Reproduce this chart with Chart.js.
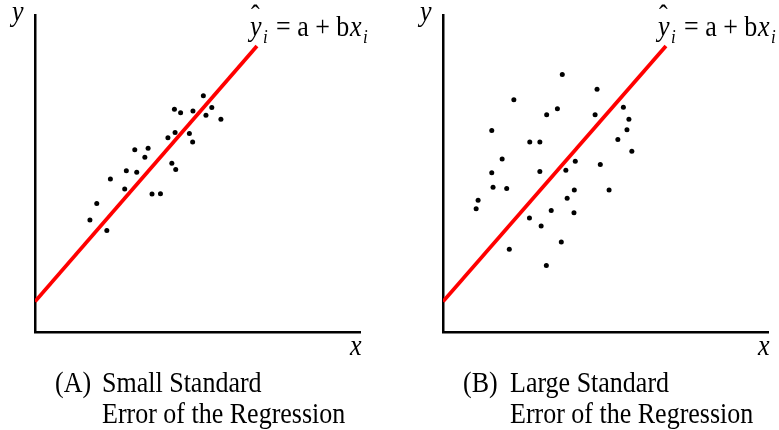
<!DOCTYPE html>
<html>
<head>
<meta charset="utf-8">
<script src="https://cdn.jsdelivr.net/npm/chart.js@4.4.0/dist/chart.umd.min.js"></script>
<style>
  html, body { margin: 0; padding: 0; background: #fff; }
  #wrap { position: relative; width: 779px; height: 430px; }
  canvas { position: absolute; top: 0; }
</style>
</head>
<body>
<div id="wrap">
  <canvas id="chartA" width="390" height="430" style="left:0px"></canvas>
  <canvas id="chartB" width="389" height="430" style="left:390px"></canvas>
</div>
<script>
// panel A - small standard error
const xA = [1.69, 1.90, 2.21, 2.32, 2.76, 2.81, 3.07, 3.13, 3.38, 3.48, 3.60, 3.86, 4.09,
            4.21, 4.33, 4.31, 4.29, 4.48, 4.75, 4.85, 4.86, 5.18, 5.26, 5.44, 5.72];
const yA = [3.53, 4.05, 3.20, 4.83, 4.51, 5.09, 5.75, 5.04, 5.51, 5.80, 4.35, 4.36, 6.13,
            5.32, 5.13, 6.29, 7.03, 6.92, 6.26, 5.99, 6.97, 7.45, 6.84, 7.08, 6.71];
const lineXA = [0, 6.83];
const lineYA = [0.96, 9.02];

// panel B - large standard error
const xB = [3.67, 4.74, 2.18, 3.52, 3.19, 4.68, 5.55, 5.72, 5.66, 1.50, 2.67, 2.98, 5.38,
            5.81, 1.82, 4.07, 1.50, 2.98, 3.78, 4.84, 1.54, 1.96, 4.04, 5.11, 1.08, 1.02,
            3.82, 3.33, 4.03, 2.66, 3.02, 3.64, 2.04, 3.18];
const yB = [8.12, 7.66, 7.33, 7.04, 6.85, 6.85, 7.09, 6.71, 6.38, 6.36, 5.99, 5.99, 6.07,
            5.70, 5.46, 5.39, 5.02, 5.06, 5.10, 5.28, 4.57, 4.53, 4.48, 4.48, 4.16, 3.89,
            4.22, 3.83, 3.76, 3.60, 3.34, 2.84, 2.61, 2.10];
const lineXB = [0, 6.86];
const lineYB = [0.96, 9.02];

const axisMin = 0;
const axisMax = 10;

const captionA = ['(A)', 'Small Standard', 'Error of the Regression'];
const captionB = ['(B)', 'Large Standard', 'Error of the Regression'];

const serif = '"Liberation Serif", "Times New Roman", serif';

function txt(ctx, s, x, y, size, italic) {
  ctx.save();
  ctx.translate(x, y);
  ctx.scale(1, 1.15);
  ctx.font = (italic ? 'italic ' : '') + size + 'px ' + serif;
  ctx.fillStyle = '#000';
  ctx.textAlign = 'left';
  ctx.textBaseline = 'alphabetic';
  ctx.fillText(s, 0, 0);
  ctx.restore();
}

// axis letters, equation and caption
const labelPlugin = {
  id: 'panelText',
  afterDraw(chart, args, opts) {
    const ctx = chart.ctx;
    const a = chart.chartArea;
    const L = a.left;
    txt(ctx, 'y', L - 23, 21, 26, true);
    txt(ctx, 'x', a.right - 10, a.bottom + 23, 26, true);
    // y-hat_i = a + b x_i
    txt(ctx, '\u02C6', L + 216, 25, 26, false);
    txt(ctx, 'y', L + 215, 36, 26, true);
    txt(ctx, 'i', L + 228, 43, 17, true);
    txt(ctx, '= a + b', L + 241, 36, 26, false);
    txt(ctx, 'x', L + 315, 36, 26, true);
    txt(ctx, 'i', L + 328, 43, 17, true);
    const cap = opts.caption;
    txt(ctx, cap[0], L + 20, 391.5, 26, false);
    txt(ctx, cap[1], L + 67, 391.5, 26, false);
    txt(ctx, cap[2], L + 67, 422.5, 26, false);
  }
};

function makePanel(id, xs, ys, lx, ly, caption, pad) {
  return new Chart(document.getElementById(id), {
    type: 'scatter',
    data: {
      datasets: [{
        data: xs.map((x, i) => ({x: x, y: ys[i]})),
        backgroundColor: '#000',
        borderWidth: 0,
        pointRadius: 2.5
      }, {
        data: lx.map((x, i) => ({x: x, y: ly[i]})),
        showLine: true,
        borderColor: '#ff0000',
        borderWidth: 3.8,
        pointRadius: 0,
        fill: false
      }]
    },
    options: {
      responsive: false,
      animation: false,
      layout: { padding: pad },
      scales: {
        x: {
          type: 'linear', min: axisMin, max: axisMax,
          grid: { display: false, drawTicks: false, tickLength: 0 },
          ticks: { display: false, padding: 0 },
          border: { display: true, color: '#000', width: 2.5 }
        },
        y: {
          type: 'linear', min: axisMin, max: axisMax,
          grid: { display: false, drawTicks: false, tickLength: 0 },
          ticks: { display: false, padding: 0 },
          border: { display: true, color: '#000', width: 2.5 }
        }
      },
      plugins: {
        legend: { display: false },
        tooltip: { enabled: false },
        panelText: { caption: caption }
      }
    },
    plugins: [labelPlugin]
  });
}

makePanel('chartA', xA, yA, lineXA, lineYA, captionA, {left: 35, right: 30, top: 15, bottom: 98});
makePanel('chartB', xB, yB, lineXB, lineYB, captionB, {left: 53, right: 11, top: 15, bottom: 98});
</script>
</body>
</html>
